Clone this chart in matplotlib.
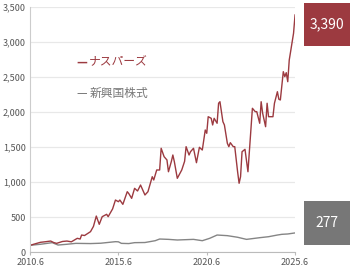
import matplotlib
matplotlib.use("Agg")
import matplotlib.pyplot as plt
import matplotlib.patches as mpatches
import pandas as pd

plt.rcParams['font.family'] = ['Noto Sans CJK JP', 'DejaVu Sans']

# ナスパーズ (2010.6 = 100)
nasdaq_dates = [
    "2010-06", "2010-10", "2011-01", "2011-04", "2011-08", "2011-10", "2011-12",
    "2012-04", "2012-07", "2012-10", "2013-02", "2013-04", "2013-05", "2013-07",
    "2013-11", "2014-01", "2014-03", "2014-05", "2014-07", "2014-10", "2014-11",
    "2015-02", "2015-04", "2015-06", "2015-07", "2015-09", "2015-12", "2016-01",
    "2016-03", "2016-05", "2016-07", "2016-09", "2016-12", "2017-02", "2017-05",
    "2017-06", "2017-08", "2017-10", "2017-11", "2018-01", "2018-03", "2018-04",
    "2018-06", "2018-07", "2018-08", "2018-10", "2019-01", "2019-03", "2019-04",
    "2019-06", "2019-07", "2019-09", "2019-11", "2020-01", "2020-03", "2020-05",
    "2020-06", "2020-07", "2020-09", "2020-10", "2020-11", "2021-01", "2021-02",
    "2021-03", "2021-05", "2021-06", "2021-08", "2021-09", "2021-10", "2021-12",
    "2022-01", "2022-03", "2022-04", "2022-05", "2022-06", "2022-08", "2022-10",
    "2023-01", "2023-03", "2023-04", "2023-06", "2023-07", "2023-08", "2023-10",
    "2023-11", "2023-12", "2024-03", "2024-04", "2024-06", "2024-07", "2024-08",
    "2024-10", "2024-11", "2024-12", "2025-01", "2025-02", "2025-03", "2025-04",
    "2025-05", "2025-06",
]
nasdaq = [
    100, 125, 143, 150, 161, 140, 128,
    155, 161, 150, 200, 190, 247, 240,
    295, 370, 518, 400, 509, 543, 509,
    620, 747, 723, 747, 685, 866, 840,
    771, 914, 876, 961, 819, 866, 1080,
    1033, 1176, 1176, 1486, 1366, 1319, 1151,
    1300, 1390, 1294, 1057, 1176, 1300, 1509,
    1390, 1437, 1486, 1280, 1500, 1461, 1747,
    1700, 1937, 1914, 1819, 1914, 1843, 2129,
    2151, 1866, 1819, 1557, 1509, 1566, 1509,
    1509, 1151, 986, 1080, 1437, 1471, 1151,
    2057, 2009, 2009, 1843, 2151, 1986, 1794,
    2129, 1937, 1937, 2129, 2294, 2186, 2176,
    2580, 2509, 2566, 2437, 2747, 2866, 3000,
    3129, 3390,
]

# 新興国株式 (2010.6 = 100)
em_dates = [
    "2010-06", "2011-01", "2011-09", "2012-01", "2012-07", "2013-01", "2013-11",
    "2014-06", "2015-04", "2015-06", "2015-08", "2016-01", "2016-05", "2016-12",
    "2017-07", "2017-10", "2018-04", "2018-10", "2019-09", "2020-03", "2020-08",
    "2021-01", "2021-08", "2022-03", "2022-09", "2023-06", "2023-12", "2024-06",
    "2024-09", "2025-01", "2025-06",
]
em = [
    100, 115, 138, 104, 115, 128, 125,
    130, 152, 150, 128, 125, 138, 140,
    166, 190, 185, 176, 185, 166, 200,
    247, 238, 215, 185, 209, 223, 247,
    257, 262, 277,
]

series_names = ["ナスパーズ", "新興国株式"]
tick_dates = ["2010-06", "2015-06", "2020-06", "2025-06"]
tick_labels = ["2010.6", "2015.6", "2020.6", "2025.6"]
y_ticks = [0, 500, 1000, 1500, 2000, 2500, 3000, 3500]

red = "#9c3a40"
gray = "#858585"

fig = plt.figure(figsize=(3.5, 2.69), dpi=100)
ax = fig.add_axes([0.086, 0.062, 0.757, 0.911])

ax.plot(pd.to_datetime(em_dates), em, color=gray, lw=1.0)
ax.plot(pd.to_datetime(nasdaq_dates), nasdaq, color=red, lw=1.0)

ax.set_xlim(pd.to_datetime(tick_dates[0]), pd.to_datetime(tick_dates[-1]))
ax.set_ylim(0, 3500)
ax.set_yticks(y_ticks)
ax.set_yticklabels([f"{v:,}" for v in y_ticks])
ax.set_xticks(pd.to_datetime(tick_dates))
ax.set_xticklabels(tick_labels)

ax.grid(axis='y', color='#e8e8e8', lw=0.9)
ax.set_axisbelow(True)
for s in ['top', 'right']:
    ax.spines[s].set_visible(False)
ax.spines['left'].set_color('#cccccc')
ax.spines['bottom'].set_color('#bbbbbb')
ax.tick_params(axis='y', length=0, labelsize=6.5, labelcolor='#555555', pad=3)
ax.tick_params(axis='x', length=2.5, color='#bbbbbb', labelsize=6.5, labelcolor='#555555', pad=1.5)

# legend: dash + name
fig.text(0.219, 0.77, "—", color=red, fontsize=8.5, va='center', fontweight='bold')
fig.text(0.255, 0.77, series_names[0], color=red, fontsize=8.5, va='center')
fig.text(0.219, 0.654, "—", color='#777777', fontsize=8.5, va='center')
fig.text(0.255, 0.654, series_names[1], color='#777777', fontsize=8.5, va='center')

# value boxes
fig.patches.append(mpatches.Rectangle((0.869, 0.829), 0.131, 0.16, transform=fig.transFigure,
                                      facecolor=red, edgecolor='none'))
fig.text(0.9345, 0.909, f"{nasdaq[-1]:,}", color='white', fontsize=10, ha='center', va='center')
fig.patches.append(mpatches.Rectangle((0.869, 0.089), 0.131, 0.162, transform=fig.transFigure,
                                      facecolor='#777777', edgecolor='none'))
fig.text(0.9345, 0.170, f"{em[-1]:,}", color='white', fontsize=10, ha='center', va='center')

fig.savefig("out.png", dpi=100)
